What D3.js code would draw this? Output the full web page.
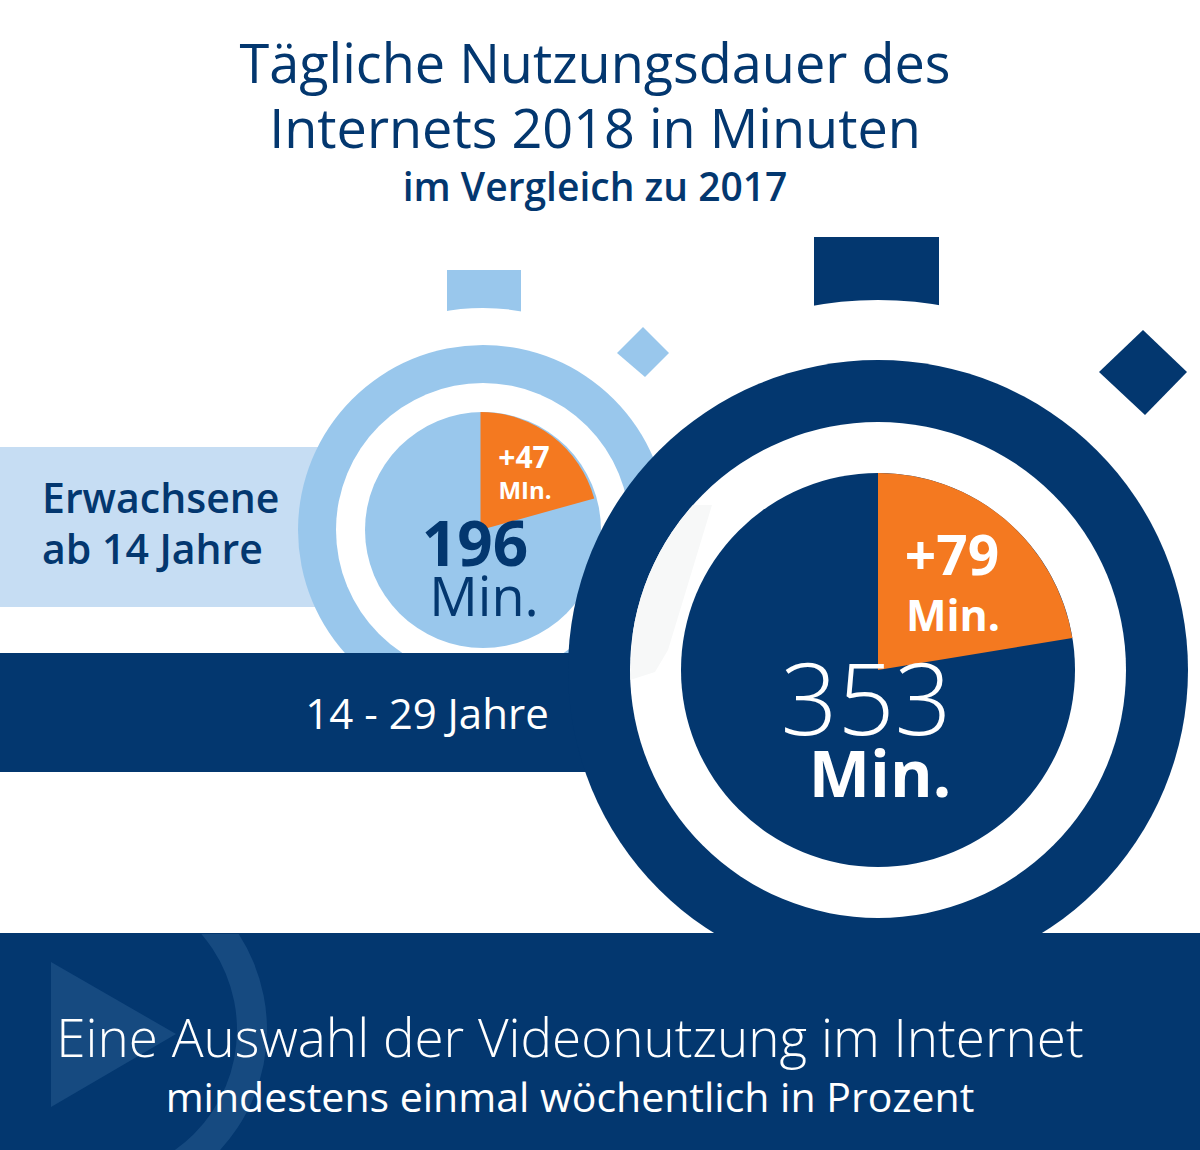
<!DOCTYPE html>
<html>
<head>
<meta charset="utf-8">
<script src="https://cdnjs.cloudflare.com/ajax/libs/d3/7.8.5/d3.min.js"></script>
<style>
html, body { margin: 0; padding: 0; background: #fff; }
svg { display: block; }
text { font-family: "Open Sans", sans-serif; }
</style>
</head>
<body>
<div id="chart"></div>
<script>
// values
var groups = ["Erwachsene ab 14 Jahre", "14 - 29 Jahre"];
var totalMinutes = [196, 353];
var addedMinutes = [47, 79];
// share of the circle the orange wedge really covers in the picture
var wedgeShare = [0.207, 0.224];

var titleLines = ["Tägliche Nutzungsdauer des", "Internets 2018 in Minuten"];
var subtitle = "im Vergleich zu 2017";
var adultLines = ["Erwachsene", "ab 14 Jahre"];
var videoTitle = "Eine Auswahl der Videonutzung im Internet";
var videoSubtitle = "mindestens einmal wöchentlich in Prozent";

var width = 1200;
var height = 1150;

var dark = "#03376f";
var light = "#99c7ec";
var paleBand = "#c6ddf3";
var orange = "#f47920";
var pale = "#164a80";

var svg = d3.select("#chart").append("svg")
	.attr("width", width)
	.attr("height", height);

var defs = svg.append("defs");
var angle = d3.scaleLinear().domain([0, 1]).range([0, 2 * Math.PI]);
var arc = d3.arc();

// stem + white gap + side button
function stemAndButton(o) {
	svg.append("rect")
		.attr("x", o.stem[0]).attr("y", o.stem[1])
		.attr("width", o.stem[2]).attr("height", o.stem[3])
		.attr("fill", o.color);
	svg.append("path")
		.attr("transform", "translate(" + o.cx + "," + o.cy + ")")
		.attr("d", arc({innerRadius: o.outer, outerRadius: o.gap, startAngle: -0.4, endAngle: 0.4}))
		.attr("fill", "#fff");
	svg.append("polygon")
		.attr("points", o.button.join(" "))
		.attr("fill", o.color);
}

function ring(o) {
	svg.append("circle")
		.attr("cx", o.cx).attr("cy", o.cy).attr("r", o.outer)
		.attr("fill", o.color);
	svg.append("circle")
		.attr("cx", o.cx).attr("cy", o.cy).attr("r", o.inner)
		.attr("fill", "#fff");
}

function face(o, i) {
	svg.append("circle")
		.attr("cx", o.cx).attr("cy", o.cy).attr("r", o.face)
		.attr("fill", o.color);
	svg.append("path")
		.attr("transform", "translate(" + (o.cx + o.wedgeShift) + "," + o.cy + ")")
		.attr("d", arc({
			innerRadius: 0,
			outerRadius: o.face,
			startAngle: angle(0),
			endAngle: angle(wedgeShare[i])
		}))
		.attr("fill", orange);
}

function label(txt, x, y, size, weight, color, anchor) {
	return svg.append("text")
		.attr("x", x).attr("y", y)
		.attr("font-size", size)
		.attr("font-weight", weight)
		.attr("fill", color)
		.attr("text-anchor", anchor || "start")
		.text(txt);
}

var adults = {
	cx: 483, cy: 530, outer: 185, inner: 147, face: 118, gap: 222,
	wedgeShift: -2.5,
	color: light,
	stem: [447, 270, 74, 60],
	button: ["643,327", "669,353", "645,377", "617,353"]
};
var youth = {
	cx: 878, cy: 670, outer: 310, inner: 248, face: 197, gap: 370,
	wedgeShift: 0,
	color: dark,
	stem: [814, 237, 125, 80],
	button: ["1143,330", "1187,372", "1145,415", "1099,372"]
};

// pale band sits behind the light ring
svg.append("rect")
	.attr("x", 0).attr("y", 447).attr("width", 330).attr("height", 160)
	.attr("fill", paleBand);

// light stopwatch first, the dark one lies on top of it
stemAndButton(adults);
ring(adults);
face(adults, 0);

// dark band runs into the big ring
svg.append("rect")
	.attr("x", 0).attr("y", 653).attr("width", 700).attr("height", 119)
	.attr("fill", dark);

stemAndButton(youth);
ring(youth);

// faint grey reflection inside the white gap
defs.append("clipPath").attr("id", "gapClip")
	.append("circle")
	.attr("cx", youth.cx).attr("cy", youth.cy).attr("r", youth.inner);
svg.append("polygon")
	.attr("points", "640,505 712,505 668,650 655,672 630,680")
	.attr("fill", "#f7f8f8")
	.attr("clip-path", "url(#gapClip)");

face(youth, 1);

// bottom banner with pale play sign
svg.append("rect")
	.attr("x", 0).attr("y", 933).attr("width", width).attr("height", height - 933)
	.attr("fill", dark);
defs.append("clipPath").attr("id", "bannerClip")
	.append("rect")
	.attr("x", 0).attr("y", 934).attr("width", width).attr("height", height - 934);
var playSign = svg.append("g").attr("clip-path", "url(#bannerClip)");
playSign.append("polygon")
	.attr("points", "51,962 176,1034 51,1107")
	.attr("fill", pale);
playSign.append("path")
	.attr("transform", "translate(90,1030)")
	.attr("d", arc({innerRadius: 147, outerRadius: 177, startAngle: 0, endAngle: Math.PI}))
	.attr("fill", pale);

// title
label(titleLines[0], 595, 83, 54, 400, dark, "middle");
label(titleLines[1], 595, 148, 54, 400, dark, "middle");
label(subtitle, 595, 201, 39, 600, dark, "middle");

// small stopwatch texts
label(adultLines[0], 42, 513, 41, 600, dark);
label(adultLines[1], 42, 564, 41, 600, dark);
label("+" + addedMinutes[0], 524, 468, 30, 700, "#fff", "middle");
label("MIn.", 525, 499, 24, 700, "#fff", "middle");
label(totalMinutes[0], 475, 566, 62, 700, dark, "middle");
label("Min.", 484, 616, 54, 400, dark, "middle");

// big stopwatch texts
label(groups[1], 427, 729, 42, 500, "#fff", "middle");
label("+" + addedMinutes[1], 952, 575, 55, 700, "#fff", "middle");
label("Min.", 953, 631, 43, 700, "#fff", "middle");
label(totalMinutes[1], 866, 735, 100, 300, "#fff", "middle");
label("Min.", 880, 797, 65, 700, "#fff", "middle");

// banner texts
label(videoTitle, 570, 1057, 53, 300, "#fff", "middle");
label(videoSubtitle, 570, 1112, 41, 500, "#fff", "middle");
</script>
</body>
</html>
